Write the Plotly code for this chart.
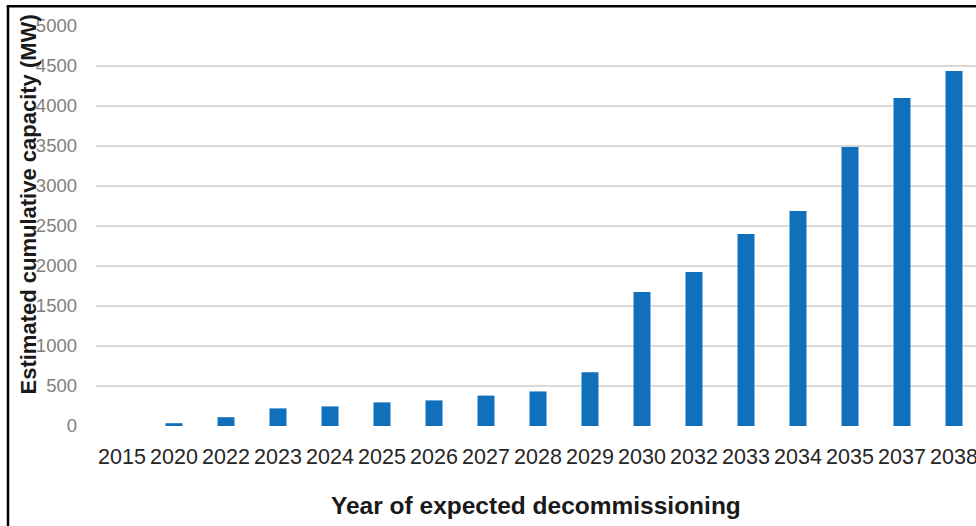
import plotly.graph_objects as go

years = ["2015", "2020", "2022", "2023", "2024", "2025", "2026", "2027", "2028",
         "2029", "2030", "2032", "2033", "2034", "2035", "2037", "2038"]
capacity_mw = [0, 35, 110, 220, 245, 295, 320, 380, 432,
               672, 1675, 1925, 2400, 2688, 3488, 4100, 4437]
y_ticks = [0, 500, 1000, 1500, 2000, 2500, 3000, 3500, 4000, 4500, 5000]

W, H = 976, 526
L, R, T, B = 96, 0, 26, 100
plot_w = W - L - R
plot_h = H - T - B
cat_px = 52.0

def px_x(px):
    return (px - L) / plot_w

def px_y(py):
    return (H - B - py) / plot_h

fig = go.Figure(
    go.Bar(
        x=list(range(len(years))),
        y=capacity_mw,
        marker=dict(color="#1170bb", line=dict(width=0)),
        width=17 / cat_px,
        hoverinfo="x+y",
    )
)

fig.update_layout(
    template="none",
    width=W,
    height=H,
    margin=dict(l=L, r=R, t=T, b=B, pad=0),
    paper_bgcolor="white",
    plot_bgcolor="white",
    showlegend=False,
    font=dict(family="Liberation Sans, Arial, sans-serif"),
    xaxis=dict(
        range=[-0.5, -0.5 + plot_w / cat_px],
        tickmode="array",
        tickvals=list(range(len(years))),
        ticktext=years,
        tickfont=dict(size=21.5, color="#262626"),
        showgrid=False,
        zeroline=False,
        showline=False,
        ticks="",
        ticklabelstandoff=15,
        ticklabeloverflow="allow",
        automargin=False,
        fixedrange=True,
    ),
    yaxis=dict(
        range=[0, 5000],
        tickmode="array",
        tickvals=y_ticks,
        ticktext=[str(v) for v in y_ticks],
        tickfont=dict(size=18.5, color="#808080"),
        showgrid=True,
        gridcolor="#d9d9d9",
        gridwidth=2,
        zeroline=False,
        showline=False,
        ticks="",
        ticklabelstandoff=18,
        ticklabeloverflow="allow",
        automargin=False,
        fixedrange=True,
    ),
    annotations=[
        dict(
            text="<b>Estimated cumulative capacity (MW)</b>",
            xref="paper", yref="paper",
            x=px_x(28), y=px_y(204.5),
            xanchor="center", yanchor="middle",
            textangle=-90,
            showarrow=False,
            font=dict(size=22, color="#1a1a1a"),
        ),
        dict(
            text="<b>Year of expected decommissioning</b>",
            xref="paper", yref="paper",
            x=px_x(536), y=px_y(505),
            xanchor="center", yanchor="middle",
            showarrow=False,
            font=dict(size=24.5, color="#1a1a1a"),
        ),
    ],
    shapes=[
        dict(type="line", xref="paper", yref="paper",
             x0=px_x(8), x1=px_x(8), y0=px_y(H + 20), y1=px_y(5.5),
             line=dict(color="black", width=2.5)),
        dict(type="line", xref="paper", yref="paper",
             x0=px_x(6.8), x1=px_x(W + 20), y0=px_y(6.2), y1=px_y(6.2),
             line=dict(color="black", width=2.5)),
    ],
)

fig.write_html(
    "out.html",
    config={"displayModeBar": False},
    post_script="document.body.style.margin='0';document.body.style.padding='0';",
)
